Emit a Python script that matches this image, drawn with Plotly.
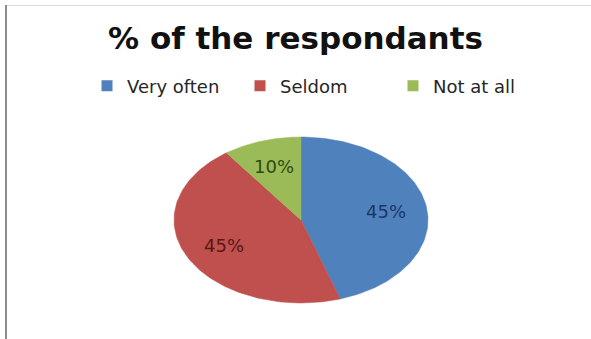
import numpy as np
import plotly.graph_objects as go

# Survey breakdown
categories = ["Very often", "Seldom", "Not at all"]
shares = [45, 45, 10]
label_texts = ["45%", "45%", "10%"]

colors = ["#4f81bd", "#c0504d", "#9bbb59"]
label_colors = ["#1c3766", "#5c1615", "#2f4a0f"]

W, H = 591, 339
cx, cy = 301, 220      # pie centre (px)
rx, ry = 127, 83       # elliptical radii (px)

fig = go.Figure()

# Slices run clockwise from 12 o'clock
fracs = np.array(shares, dtype=float) / sum(shares)
bounds = np.concatenate([[0], np.cumsum(fracs)]) * 2 * np.pi
for i, name in enumerate(categories):
    t = np.linspace(bounds[i], bounds[i + 1], 120)
    xs = np.concatenate([[cx], cx + rx * np.sin(t), [cx]])
    ys = np.concatenate([[cy], cy - ry * np.cos(t), [cy]])
    fig.add_trace(go.Scatter(
        x=xs, y=ys, mode="lines", fill="toself",
        fillcolor=colors[i], line=dict(color=colors[i], width=0.5),
        hoverinfo="text", text=f"{name}: {shares[i]}%",
        showlegend=False,
    ))
    mid = (bounds[i] + bounds[i + 1]) / 2
    f = 0.68
    fig.add_annotation(
        x=cx + f * rx * np.sin(mid), y=cy - f * ry * np.cos(mid),
        text=label_texts[i], showarrow=False,
        font=dict(family="DejaVu Sans", size=18, color=label_colors[i]),
    )

# Legend entries
for i, name in enumerate(categories):
    fig.add_trace(go.Scatter(
        x=[None], y=[None], mode="markers", name=name,
        marker=dict(symbol="square", size=11, color=colors[i]),
    ))

fig.update_layout(
    width=W, height=H,
    margin=dict(l=0, r=0, t=0, b=0),
    paper_bgcolor="white", plot_bgcolor="white",
    xaxis=dict(range=[0, W], visible=False, fixedrange=True),
    yaxis=dict(range=[H, 0], visible=False, fixedrange=True),
    title=dict(
        text="<b>% of the respondants</b>",
        x=0.5, xanchor="center", y=1 - 38 / H, yanchor="middle",
        font=dict(family="DejaVu Sans", size=31, color="#111111"),
    ),
    legend=dict(
        orientation="h", x=87 / W, xanchor="left",
        y=1 - 86 / H, yanchor="middle",
        font=dict(family="DejaVu Sans", size=18, color="#262626"),
        entrywidth=108, entrywidthmode="pixels",
        bgcolor="rgba(0,0,0,0)",
    ),
    shapes=[
        dict(type="line", xref="paper", yref="paper",
             x0=6 / W, x1=1, y0=1 - 5.5 / H, y1=1 - 5.5 / H,
             line=dict(color="#d9d9d9", width=1)),
        dict(type="line", xref="paper", yref="paper",
             x0=6 / W, x1=6 / W, y0=0, y1=1 - 5 / H,
             line=dict(color="#8c8c8c", width=2)),
    ],
)

fig.write_html("out.html")
